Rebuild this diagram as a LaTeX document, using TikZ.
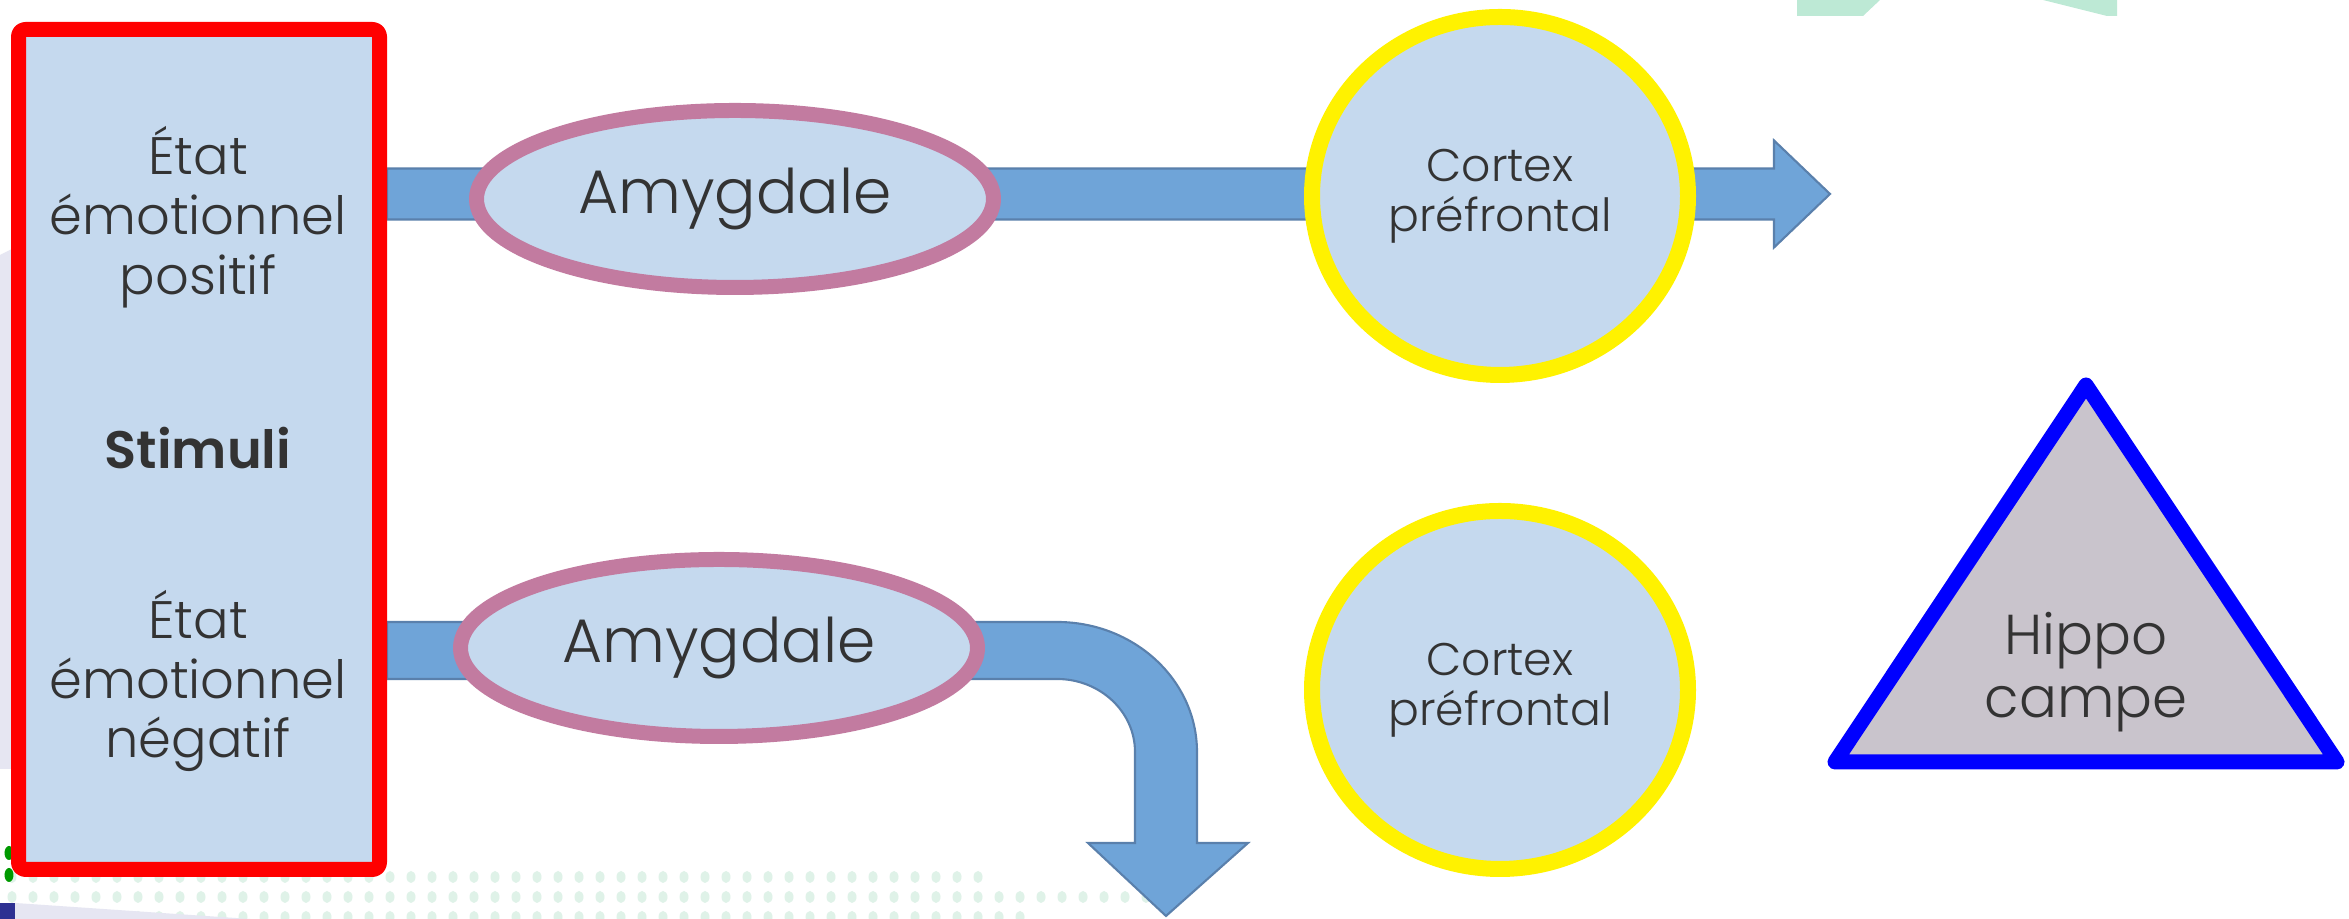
\documentclass[tikz,border=0pt]{standalone}
\usepackage{fontspec}
\setmainfont{Poppins}[UprightFont=* Light,BoldFont=* SemiBold]
\usetikzlibrary{shapes.geometric,calc,positioning}
\definecolor{boxblue}{HTML}{C5D9EE}
\definecolor{arrowfill}{HTML}{6FA4D8}
\definecolor{arrowline}{HTML}{5A80AC}
\definecolor{mauve}{HTML}{C27BA0}
\definecolor{hipfill}{HTML}{C9C4CC}
\definecolor{txt}{HTML}{333333}
\definecolor{mint}{HTML}{DFF2E8}
\definecolor{minttop}{HTML}{BDE9D5}
\definecolor{navy}{HTML}{2E3192}
\definecolor{lavender}{HTML}{E6E6F2}
\pgfdeclarelayer{back}\pgfsetlayers{back,main}
\tikzset{
 stimbox/.style={draw=red,fill=boxblue,line width=0.15cm,rounded corners=2pt,minimum width=3.61cm,minimum height=8.4cm},
 amyg/.style={ellipse,draw=mauve,fill=boxblue,line width=0.15cm,minimum width=5.17cm,minimum height=1.77cm,inner sep=0pt,font=\fontsize{17.5}{20}\selectfont},
 cortex/.style={ellipse,draw=yellow,fill=boxblue,line width=0.16cm,minimum width=3.76cm,minimum height=3.58cm,inner sep=0pt,align=center,font=\fontsize{13}{14.2}\selectfont},
 etat/.style={align=center,font=\fontsize{15}{17}\selectfont},
 flow/.style={fill=arrowfill,draw=arrowline,line width=0.6pt,line join=miter}
}
\begin{document}
\begin{tikzpicture}[text=txt,line join=round,line cap=round]
 \useasboundingbox (0,0) rectangle (23.49,9.19);
 \node[stimbox] (stim) at (1.99,4.695) {};
 \node[etat] (pos) at (1.98,7.02) {État\\émotionnel\\positif};
 \node[etat,font=\fontsize{15}{17}\selectfont\bfseries] (stimuli) at (1.98,4.71) {Stimuli};
 \node[etat] (neg) at (1.98,2.38) {État\\émotionnel\\négatif};
 \node[amyg] (amyg1) at (7.35,7.20) {Amygdale};
 \node[amyg] (amyg2) at (7.19,2.71) {Amygdale};
 \node[cortex] (cort1) at (15.00,7.23) {Cortex\\préfrontal};
 \node[cortex] (cort2) at (15.00,2.29) {Cortex\\préfrontal};
 % hippocampe
 \draw[blue,fill=hipfill,line width=0.15cm] (20.86,5.34) -- (23.37,1.57) -- (18.35,1.57) -- cycle;
 \node[etat,font=\fontsize{16}{18}\selectfont] (hippo) at (20.86,2.47) {Hippo\\campe};
 \coordinate (tip1) at (18.30,7.25);
 \coordinate (tip2) at (11.66,0.03);
 \coordinate (up2) at (0,2.97);
 \coordinate (lo2) at (0,2.40);
 \begin{pgfonlayer}{back}
 % fond
 \fill[white] (0,0) rectangle (23.49,9.19);
 \fill[minttop] (17.97,9.19) -- (18.80,9.19) -- (18.63,9.03) -- (17.97,9.03) -- cycle
  (20.43,9.19) -- (21.17,9.19) -- (21.17,9.03) -- (21.07,9.03) -- cycle;
 \fill[lavender] (0,6.64) -- (0.12,6.7) -- (0.12,1.5) -- (0,1.5) -- cycle;
 \foreach \r/\n in {0/46,1/54,2/48} \foreach \i in {0,...,\n}
  \fill[mint] (0.12+\i*0.21,0.42-\r*0.2) ellipse (0.045 and 0.06);
 \fill[green!60!black] (0.09,0.66) ellipse (0.045 and 0.07) (0.09,0.44) ellipse (0.045 and 0.07);
 \fill[lavender] (0.15,0.16) -- (2.5,0) -- (0.15,0) -- cycle;
 \fill[navy] (0,0) rectangle (0.15,0.16);
 % fleches
 \draw[flow] ($(stim.east |- tip1)+(0,0.255)$) -- ($(tip1)+(-0.56,0.255)$) -- ($(tip1)+(-0.56,0.535)$)
  -- (tip1) -- ($(tip1)+(-0.56,-0.535)$) -- ($(tip1)+(-0.56,-0.255)$) -- ($(stim.east |- tip1)+(0,-0.255)$) -- cycle;
 \draw[flow] (stim.east |- up2) -- (10.57,2.97) arc[start angle=90,end angle=0,x radius=1.40,y radius=1.30] -- (11.97,0.76) -- (12.48,0.76)
  -- (tip2) -- (10.88,0.76) -- (11.35,0.76) -- (11.35,1.67) arc[start angle=0,end angle=90,x radius=0.78,y radius=0.73] -- (stim.east |- lo2) -- cycle;
 \end{pgfonlayer}
\end{tikzpicture}
\end{document}
